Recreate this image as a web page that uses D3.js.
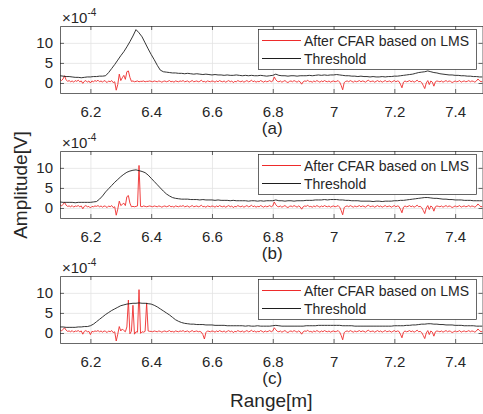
<!DOCTYPE html>
<html>
<head>
<meta charset="utf-8">
<script src="https://cdn.jsdelivr.net/npm/d3@7"></script>
<style>
  html, body { margin: 0; padding: 0; background: #fff; }
  svg { display: block; font-family: "Liberation Sans", Arial, sans-serif; }
</style>
</head>
<body>
<svg id="chart" width="483" height="414"></svg>
<script>
// ---- data (amplitudes in units of 1e-4 V) ----
const xTicks = [6.2, 6.4, 6.6, 6.8, 7, 7.2, 7.4];
const yTicks = [0, 5, 10];
const panelLabels = ["(a)", "(b)", "(c)"];
const seriesNames = ["After CFAR based on LMS", "Threshold"];

// residual samples start at 6.10 m, spaced 0.005 m
const residualStart = 6.1;
const residualStep = 0.005;
// threshold samples start at 6.10 m, spaced 0.01 m
const thresholdStart = 6.1;
const thresholdStep = 0.01;

// residual, 6.100 .. 6.395 m
const residualHeadA = [
  0.9,0.6,1.0,1.8,0.8,0.4,0.6,0.3,0.5,0.2,
  0.6,0.4,0.7,0.3,0.5,-0.1,0.4,0.6,0.2,0.5,
  0.0,0.5,0.3,0.6,0.4,0.7,0.3,0.5,0.2,0.6,
  0.4,0.1,0.5,0.3,0.6,0.1,0.3,-1.8,-0.4,2.2,
  0.6,1.3,1.9,0.9,2.8,3.0,1.4,0.4,0.5,0.3,
  0.4,0.5,0.3,0.4,0.4,0.5,0.3,0.4,0.4,0.5
];
const residualHeadB = [
  0.8,0.5,0.9,1.4,0.7,0.4,0.5,0.3,0.6,0.2,
  0.5,0.4,0.6,0.3,0.5,-0.2,0.4,0.6,0.3,0.4,
  0.0,0.4,0.3,0.5,0.4,0.6,0.3,0.5,0.2,0.5,
  0.4,0.1,0.5,0.3,0.6,0.1,0.3,-1.8,-0.3,1.7,
  0.6,0.9,1.2,0.6,2.8,3.1,1.2,0.3,0.4,0.3,
  0.4,0.5,10.6,0.4,0.3,0.5,0.4,0.3,0.4,0.5
];
const residualHeadC = [
  0.8,0.5,0.9,1.3,0.7,0.4,0.5,0.3,0.6,0.2,
  0.5,0.4,0.6,0.3,0.5,-0.3,0.4,0.6,0.3,0.4,
  -0.4,0.4,0.3,0.5,0.4,0.6,0.3,0.5,0.2,0.5,
  0.4,0.1,0.5,0.3,0.6,0.1,0.3,-2.0,-0.3,1.6,
  0.5,1.0,0.6,0.3,1.5,8.2,-0.2,0.4,6.9,-0.3,
  0.3,0.2,10.8,-0.1,0.3,0.2,0.4,7.5,0.5,0.4
];
// residual, 6.400 .. 7.490 m (panels a and b)
const residualTailAB = [
  0.4,0.3,0.5,0.4,0.3,0.5,0.4,0.2,0.4,0.5,
  0.3,0.4,0.6,0.3,0.4,0.2,0.5,0.4,0.3,0.5,
  0.4,0.6,0.3,0.4,0.5,0.2,0.4,0.6,0.3,0.4,
  0.5,0.3,0.4,0.7,0.3,0.4,0.2,0.5,0.4,0.3,
  0.5,0.4,0.2,0.5,0.3,0.6,0.4,0.3,0.5,0.2,
  0.4,0.6,0.3,0.5,0.1,0.4,0.3,0.6,0.4,0.3,
  0.5,0.2,0.4,0.6,0.3,0.4,0.7,0.3,0.5,0.2,
  0.4,0.3,0.6,0.4,0.2,0.5,0.3,0.4,0.6,0.3,
  0.5,1.5,0.8,0.4,0.3,0.5,0.2,0.4,0.6,0.3,
  0.1,0.4,0.5,0.3,0.6,0.4,0.2,0.5,0.3,-0.3,
  0.3,0.5,0.4,0.7,0.3,0.4,0.2,0.5,0.3,0.6,
  0.4,0.2,0.5,0.3,0.6,0.4,0.3,0.5,0.2,0.4,
  0.5,0.3,0.4,0.6,0.2,-0.6,-1.7,0.1,0.4,0.5,
  0.3,0.6,0.4,0.2,0.5,0.3,0.4,0.6,0.3,0.5,
  0.4,0.2,0.5,0.7,0.3,0.4,0.5,0.2,0.4,0.6,
  0.3,0.5,0.2,0.4,0.6,0.3,0.4,0.5,0.2,0.4,
  0.6,0.3,0.5,0.4,-0.3,-1.2,0.2,0.5,0.3,0.4,
  0.6,0.3,0.5,0.2,0.4,0.7,0.3,0.4,0.1,-0.6,
  -1.4,0.0,0.6,-0.4,0.5,0.2,-0.8,0.3,0.5,0.4,
  0.3,0.5,0.2,0.4,0.6,0.3,0.5,0.4,0.1,0.3,
  0.5,0.3,0.4,0.6,0.2,0.4,0.5,0.3,0.4,0.6,
  0.3,0.5,0.4,0.2,0.5,1.0,0.6,0.3,0.4
];
// residual, 6.400 .. 7.490 m (panel c)
const residualTailC = [
  0.4,0.3,0.5,0.4,0.3,0.5,0.4,0.2,0.4,0.5,
  0.3,0.4,0.6,0.3,0.4,0.2,0.5,0.4,0.3,0.5,
  0.4,0.6,0.3,0.4,0.5,0.2,0.4,0.6,0.3,0.4,
  0.5,0.3,0.4,0.2,-0.4,-1.5,0.1,0.5,0.4,0.3,
  0.5,0.4,0.2,0.5,0.3,0.6,0.4,0.3,0.5,0.2,
  0.4,0.6,0.3,0.5,0.1,0.4,0.3,0.6,0.4,0.3,
  0.5,0.2,0.4,0.6,0.3,0.4,0.7,0.3,0.5,0.2,
  0.4,0.3,0.6,0.4,0.2,0.5,0.3,0.4,0.6,0.3,
  0.5,1.3,0.8,0.4,0.3,0.5,0.2,0.4,0.6,0.3,
  0.1,0.4,0.5,0.3,0.6,0.4,0.2,0.5,0.3,-0.3,
  0.3,0.5,0.4,0.7,0.3,0.4,0.2,0.5,0.3,0.6,
  0.4,0.2,0.5,0.3,0.6,0.4,0.3,0.5,0.2,0.4,
  0.5,0.3,0.4,0.6,0.2,-0.6,-1.7,0.1,0.4,0.5,
  0.3,0.6,0.4,0.2,0.5,0.3,0.4,0.6,0.3,0.5,
  0.4,0.2,0.5,0.7,0.3,0.4,0.5,0.2,0.4,0.6,
  0.3,0.5,0.2,0.4,0.6,0.3,0.4,0.5,0.2,0.4,
  0.6,0.3,0.5,0.4,-0.3,-1.2,0.2,0.5,0.3,0.4,
  0.6,0.3,0.5,0.2,0.4,0.7,0.3,0.4,0.1,-0.6,
  -1.4,0.0,0.6,-0.4,0.5,0.2,-0.8,0.3,0.5,0.4,
  0.3,0.5,0.2,0.4,0.6,0.3,0.5,0.4,0.1,0.3,
  0.5,0.3,0.4,0.6,0.2,0.4,0.5,0.3,0.4,0.6,
  0.3,0.5,0.4,0.2,0.5,1.0,0.6,0.3,0.4
];

// threshold, 6.10 .. 7.49 m
const thresholdA = [
  1.8,1.7,1.6,1.6,1.5,1.4,1.4,1.3,1.4,1.5,
  1.5,1.6,1.6,1.7,1.7,1.8,2.6,3.6,4.6,5.7,
  6.8,7.8,9.0,10.3,11.7,13.3,12.5,11.5,10.0,8.5,
  7.1,5.8,4.4,3.2,2.8,2.7,2.6,2.5,2.5,2.4,
  2.4,2.3,2.4,2.3,2.2,2.3,2.2,2.1,2.2,2.1,
  2.0,2.1,2.0,2.0,1.9,2.0,1.9,1.9,2.0,1.9,
  1.8,1.9,1.8,1.9,1.8,1.8,1.9,1.8,1.7,1.8,
  1.9,2.2,1.9,1.8,1.8,1.7,1.8,1.8,1.7,1.8,
  1.8,1.8,1.9,1.8,1.9,2.0,1.9,2.0,1.9,2.0,
  2.0,2.1,2.0,1.9,1.8,1.8,1.7,1.7,1.6,1.7,
  1.6,1.6,1.5,1.6,1.5,1.5,1.6,1.5,1.6,1.6,
  1.7,1.7,1.8,1.9,2.0,2.1,2.2,2.4,2.6,2.7,
  2.8,3.0,2.8,2.6,2.5,2.3,2.2,2.1,2.0,2.0,
  1.9,1.9,1.8,1.8,1.7,1.7,1.6,1.6,1.5,1.5
];
const thresholdB = [
  1.5,1.4,1.4,1.4,1.4,1.3,1.4,1.4,1.4,1.4,
  1.4,1.5,1.6,2.2,3.0,4.0,4.8,5.6,6.4,7.1,
  7.8,8.4,8.9,9.2,9.4,9.5,9.3,9.1,8.8,8.2,
  7.4,6.6,5.8,5.0,4.2,3.5,3.0,2.6,2.4,2.3,
  2.2,2.2,2.2,2.1,2.1,2.1,2.0,2.1,2.0,2.0,
  2.0,1.9,2.0,1.9,1.9,1.9,1.8,1.9,1.8,1.8,
  1.8,1.8,1.7,1.8,1.8,1.7,1.8,1.7,1.8,1.8,
  1.8,2.0,1.8,1.8,1.7,1.8,1.8,1.7,1.8,1.8,
  1.8,1.9,1.9,1.9,2.0,2.0,2.0,2.1,2.0,2.1,
  2.1,2.1,2.0,2.0,1.9,1.9,1.8,1.8,1.8,1.7,
  1.7,1.7,1.7,1.6,1.7,1.7,1.6,1.7,1.7,1.7,
  1.8,1.8,1.9,1.9,2.0,2.1,2.2,2.3,2.4,2.5,
  2.6,2.6,2.5,2.4,2.4,2.3,2.2,2.2,2.1,2.1,
  2.0,2.0,2.0,1.9,1.9,1.9,1.8,1.8,1.8,1.8
];
const thresholdC = [
  1.5,1.5,1.4,1.4,1.4,1.4,1.5,1.5,1.6,1.6,
  1.8,2.2,2.8,3.4,4.0,4.6,5.1,5.6,6.0,6.4,
  6.8,7.0,7.2,7.3,7.4,7.4,7.5,7.4,7.4,7.3,
  7.2,6.9,6.5,6.0,5.5,5.0,4.5,3.9,3.3,2.9,
  2.6,2.4,2.3,2.2,2.2,2.1,2.1,2.1,2.0,2.0,
  2.0,1.9,1.9,1.9,1.9,1.8,1.8,1.8,1.8,1.8,
  1.8,1.7,1.8,1.7,1.7,1.8,1.7,1.7,1.7,1.7,
  1.8,1.9,1.8,1.7,1.7,1.7,1.7,1.7,1.7,1.7,
  1.7,1.8,1.8,1.8,1.8,1.9,1.9,1.9,1.9,1.9,
  1.9,1.9,1.9,1.8,1.8,1.8,1.8,1.7,1.7,1.7,
  1.7,1.7,1.7,1.7,1.7,1.7,1.7,1.7,1.7,1.7,
  1.8,1.8,1.8,1.8,1.9,1.9,2.0,2.0,2.1,2.2,
  2.2,2.3,2.3,2.2,2.2,2.1,2.1,2.0,2.0,2.0,
  1.9,1.9,1.9,1.8,1.8,1.8,1.8,1.7,1.7,1.7
];

const residuals = [
  residualHeadA.concat(residualTailAB),
  residualHeadB.concat(residualTailAB),
  residualHeadC.concat(residualTailC)
];
const thresholds = [thresholdA, thresholdB, thresholdC];

// ---- layout ----
const svg = d3.select("#chart");
const ink = "#262626";
const redColor = "#ee2b2b";
const blackColor = "#1e1e1e";
const plotLeft = 60, plotRight = 482.5, plotHeight = 67;
const plotTops = [26, 151, 276];

const x = d3.scaleLinear().domain([6.1, 7.49]).range([plotLeft, plotRight]);

plotTops.forEach((top, p) => {
  const bottom = top + plotHeight;
  const y = d3.scaleLinear().domain([-2.5, 14.2]).range([bottom, top]);
  const g = svg.append("g");

  // grid
  g.append("g")
    .attr("transform", `translate(0,${bottom})`)
    .call(d3.axisBottom(x).tickValues(xTicks).tickSize(-plotHeight).tickFormat(""))
    .call(s => s.select(".domain").remove())
    .selectAll("line").attr("stroke", "#e3e3e3").attr("stroke-width", 0.8);
  g.append("g")
    .attr("transform", `translate(${plotLeft},0)`)
    .call(d3.axisLeft(y).tickValues(yTicks).tickSize(-(plotRight - plotLeft)).tickFormat(""))
    .call(s => s.select(".domain").remove())
    .selectAll("line").attr("stroke", "#e3e3e3").attr("stroke-width", 0.8);

  // clip
  const clipId = "clip" + p;
  svg.append("clipPath").attr("id", clipId)
    .append("rect").attr("x", plotLeft).attr("y", top)
    .attr("width", plotRight - plotLeft).attr("height", plotHeight);

  const residualLine = d3.line()
    .x((d, i) => x(residualStart + i * residualStep))
    .y(d => y(d));
  const thresholdLine = d3.line()
    .x((d, i) => x(thresholdStart + i * thresholdStep))
    .y(d => y(d));

  const lines = g.append("g").attr("clip-path", `url(#${clipId})`);
  lines.append("path").datum(residuals[p])
    .attr("d", residualLine)
    .attr("fill", "none").attr("stroke", redColor).attr("stroke-width", 0.9)
    .attr("stroke-linejoin", "round");
  lines.append("path").datum(thresholds[p])
    .attr("d", thresholdLine)
    .attr("fill", "none").attr("stroke", blackColor).attr("stroke-width", 0.9)
    .attr("stroke-linejoin", "round");

  // axes (inward ticks on all four sides)
  const styleAxis = s => {
    s.select(".domain").attr("stroke", ink).attr("stroke-width", 0.7);
    s.selectAll(".tick line").attr("stroke", ink).attr("stroke-width", 0.7);
    s.selectAll("text").attr("fill", ink).attr("font-size", 15)
      .attr("font-family", '"Liberation Sans", Arial, sans-serif');
  };
  g.append("g").attr("transform", `translate(0,${bottom})`)
    .call(d3.axisBottom(x).tickValues(xTicks).tickSizeInner(-4).tickSizeOuter(0).tickPadding(13).tickFormat(d3.format("")))
    .call(styleAxis);
  g.append("g").attr("transform", `translate(0,${top})`)
    .call(d3.axisTop(x).tickValues(xTicks).tickSizeInner(-4).tickSizeOuter(0).tickFormat(""))
    .call(styleAxis);
  g.append("g").attr("transform", `translate(${plotLeft},0)`)
    .call(d3.axisLeft(y).tickValues(yTicks).tickSizeInner(-4).tickSizeOuter(0).tickPadding(7))
    .call(styleAxis);
  g.append("g").attr("transform", `translate(${plotRight},0)`)
    .call(d3.axisRight(y).tickValues(yTicks).tickSizeInner(-4).tickSizeOuter(0).tickFormat(""))
    .call(styleAxis);

  // exponent label
  const expo = g.append("text").attr("x", plotLeft + 2).attr("y", top - 3)
    .attr("fill", ink).attr("font-size", 15);
  expo.append("tspan").text("×10");
  expo.append("tspan").attr("font-size", 10).attr("dy", -7).text("-4");

  // panel label
  g.append("text").attr("x", (plotLeft + plotRight) / 2 + 1).attr("y", bottom + 41)
    .attr("text-anchor", "middle").attr("fill", ink).attr("font-size", 17)
    .text(panelLabels[p]);

  // legend
  const lx = 258, ly = Math.round(top + 2.5) + 0.5, lw = 218, lh = 40;
  const leg = g.append("g");
  leg.append("rect").attr("x", lx + 0.5).attr("y", ly).attr("width", lw).attr("height", lh)
    .attr("fill", "#fff").attr("stroke", ink).attr("stroke-width", 0.7);
  const rows = [{ name: seriesNames[0], color: redColor, dy: 11 },
                { name: seriesNames[1], color: blackColor, dy: 29 }];
  rows.forEach(r => {
    leg.append("line").attr("x1", lx + 4).attr("x2", lx + 43)
      .attr("y1", ly + r.dy).attr("y2", ly + r.dy)
      .attr("stroke", r.color).attr("stroke-width", 1);
    leg.append("text").attr("x", lx + 46).attr("y", ly + r.dy + 5.5)
      .attr("fill", ink).attr("font-size", 14).text(r.name);
  });
});

// shared axis titles
svg.append("text").attr("x", (plotLeft + plotRight) / 2).attr("y", 407)
  .attr("text-anchor", "middle").attr("fill", ink).attr("font-size", 19)
  .text("Range[m]");
svg.append("text").attr("transform", "translate(27,185) rotate(-90)")
  .attr("text-anchor", "middle").attr("fill", ink).attr("font-size", 19)
  .text("Amplitude[V]");
</script>
</body>
</html>
